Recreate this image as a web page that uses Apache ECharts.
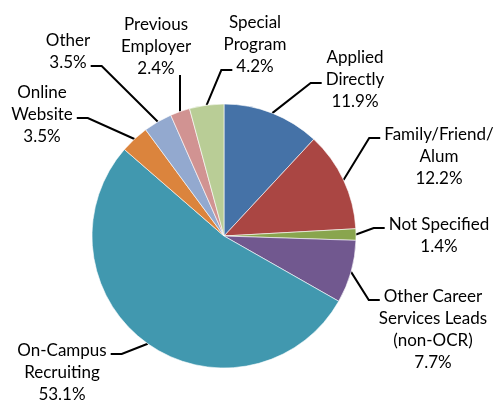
<!DOCTYPE html>
<html>
<head>
<meta charset="utf-8">
<script src="https://cdn.jsdelivr.net/npm/echarts@6/dist/echarts.min.js"></script>
<style>
  html, body { margin: 0; padding: 0; background: #fff; }
  #chart { width: 495px; height: 405px; }
</style>
</head>
<body>
<div id="chart"></div>
<script>
var categories = [
    'Applied\nDirectly',
    'Family/Friend/\nAlum',
    'Not Specified',
    'Other Career\nServices Leads\n(non-OCR)',
    'On-Campus\nRecruiting',
    'Online\nWebsite',
    'Other',
    'Previous\nEmployer',
    'Special\nProgram'
];
var percents = [11.9, 12.2, 1.4, 7.7, 53.1, 3.5, 3.5, 2.4, 4.2];
var colors = ['#4572A7', '#AA4643', '#89A54E', '#71588F', '#4198AF',
              '#DB843D', '#93A9CF', '#D19392', '#B9CD96'];

// label block centers, and which side / text line the leader line meets
var labelSpots = [
    [355, 80], [439, 157], [439, 236], [433, 330], [62, 373],
    [42, 115], [68, 52], [156, 47], [255, 45]
];
var attach = [
    ['left', 1], ['left', 0], ['left', 0], ['left', 0], ['right', 0],
    ['right', 1], ['right', 1], ['below', 2], ['left', 2]
];

var FONT = 'Lato';
var FS = 17;
var LH = 22;

var ctx = document.createElement('canvas').getContext('2d');
ctx.font = FS + 'px ' + FONT;

function labelText(i) {
    return categories[i] + '\n' + percents[i].toFixed(1) + '%';
}

var chart = echarts.init(document.getElementById('chart'));

var pieData = [];
for (var i = 0; i < categories.length; i++) {
    pieData.push({
        name: categories[i],
        value: percents[i],
        itemStyle: { color: colors[i] }
    });
}

chart.setOption({
    animation: false,
    series: [{
        type: 'pie',
        center: [224, 236],
        radius: 132,
        startAngle: 90,
        clockwise: true,
        avoidLabelOverlap: false,
        itemStyle: {
            borderColor: '#fff',
            borderWidth: 0.6
        },
        label: {
            show: true,
            position: 'outside',
            formatter: function (p) {
                return labelText(p.dataIndex);
            },
            fontFamily: FONT,
            fontSize: FS,
            lineHeight: LH,
            color: '#000'
        },
        labelLine: {
            show: true,
            length: 15,
            length2: 10,
            lineStyle: { color: '#000', width: 2 }
        },
        labelLayout: function (params) {
            var i = params.dataIndex;
            var s = labelSpots[i];
            var lines = labelText(i).split('\n');
            var top = s[1] - lines.length * LH / 2;
            var a = attach[i];
            var start = params.labelLinePoints[0];
            var pts;
            if (a[0] === 'below') {
                var yb = top + lines.length * LH - 5;
                pts = [start, [start[0], (start[1] + yb) / 2], [start[0], yb]];
            } else {
                var w = ctx.measureText(lines[a[1]]).width;
                var y = top + LH * a[1] + LH / 2 + 3;
                var dir = a[0] === 'left' ? -1 : 1;
                var xEnd = s[0] + dir * (w / 2 + 4);
                pts = [start, [xEnd + dir * 11, y], [xEnd, y]];
            }
            return {
                x: s[0],
                y: s[1],
                align: 'center',
                verticalAlign: 'middle',
                labelLinePoints: pts
            };
        },
        data: pieData
    }]
});
</script>
</body>
</html>
